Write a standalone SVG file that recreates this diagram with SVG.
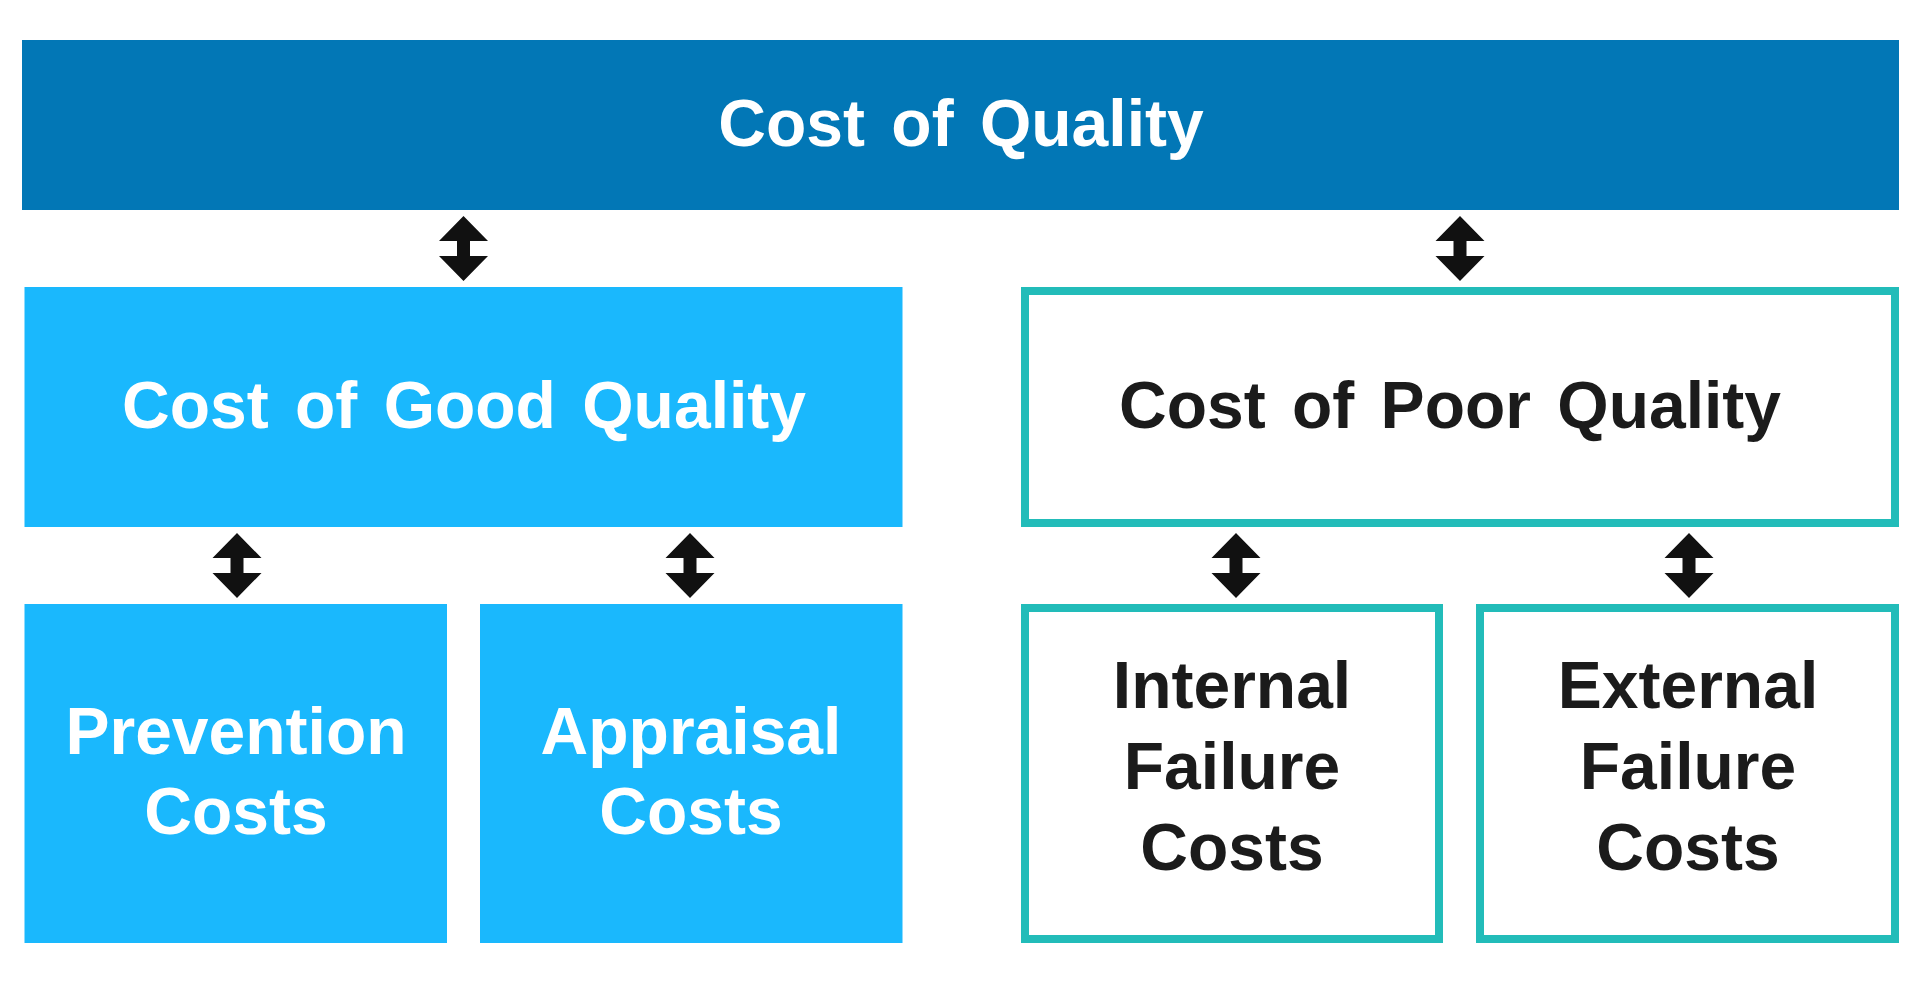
<svg xmlns="http://www.w3.org/2000/svg" xmlns:xlink="http://www.w3.org/1999/xlink" width="1920" height="983" viewBox="0 0 1920 983">
<style>
.t{font-family:"Liberation Sans",Arial,sans-serif;font-weight:bold;font-size:66px;text-anchor:middle;word-spacing:8px}
.w{fill:#ffffff}
.k{fill:#1b1b1b}
.dark{fill:#0277b6}
.light{fill:#1ab8fd}
.outl{fill:#ffffff;stroke:#22bcb9;stroke-width:8}
.arr{fill:#111111}
</style>
<defs>
<path id="dbl" d="M0,0 L24.5,25 L6.5,25 L6.5,40 L24.5,40 L0,65 L-24.5,40 L-6.5,40 L-6.5,25 L-24.5,25 Z"/>
</defs>
<rect width="1920" height="983" fill="#ffffff"/>
<g id="cost-of-quality">
<rect class="dark" x="22" y="40" width="1877" height="170"/>
<text class="t w" x="961" y="146">Cost of Quality</text>
</g>
<g id="cost-of-good-quality">
<rect class="light" x="24.5" y="287" width="878" height="240"/>
<text class="t w" x="464" y="428">Cost of Good Quality</text>
</g>
<g id="cost-of-poor-quality">
<rect class="outl" x="1025" y="291" width="870" height="232"/>
<text class="t k" x="1450" y="428">Cost of Poor Quality</text>
</g>
<g id="prevention-costs">
<rect class="light" x="24.5" y="604" width="422.5" height="339"/>
<text class="t w" x="236" y="754">Prevention</text>
<text class="t w" x="236" y="834">Costs</text>
</g>
<g id="appraisal-costs">
<rect class="light" x="480" y="604" width="422.5" height="339"/>
<text class="t w" x="691" y="754">Appraisal</text>
<text class="t w" x="691" y="834">Costs</text>
</g>
<g id="internal-failure-costs">
<rect class="outl" x="1025" y="608" width="414" height="331"/>
<text class="t k" x="1232" y="708">Internal</text>
<text class="t k" x="1232" y="789">Failure</text>
<text class="t k" x="1232" y="870">Costs</text>
</g>
<g id="external-failure-costs">
<rect class="outl" x="1480" y="608" width="415" height="331"/>
<text class="t k" x="1688" y="708">External</text>
<text class="t k" x="1688" y="789">Failure</text>
<text class="t k" x="1688" y="870">Costs</text>
</g>
<g id="connectors" class="arr">
<use xlink:href="#dbl" x="463.5" y="216"/>
<use xlink:href="#dbl" x="1460" y="216"/>
<use xlink:href="#dbl" x="237" y="533"/>
<use xlink:href="#dbl" x="690" y="533"/>
<use xlink:href="#dbl" x="1236" y="533"/>
<use xlink:href="#dbl" x="1689" y="533"/>
</g>
</svg>
